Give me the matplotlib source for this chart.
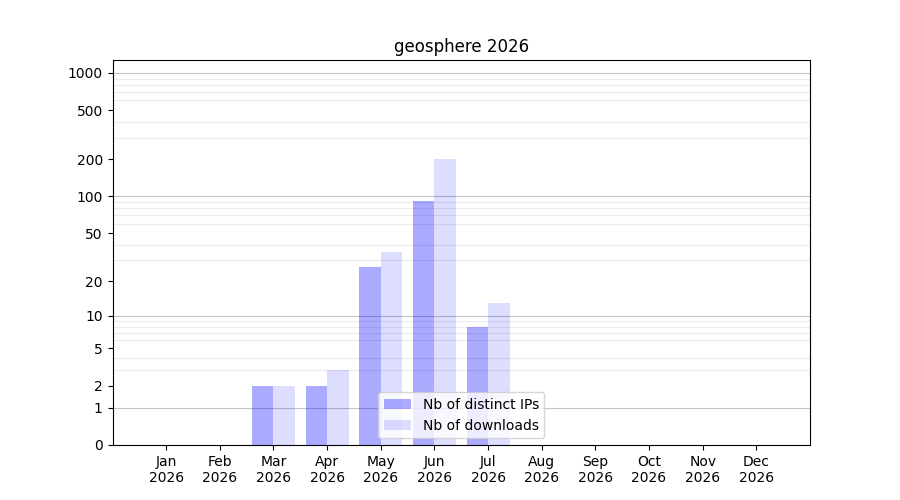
import numpy as np
import matplotlib
matplotlib.use("Agg")
import matplotlib.pyplot as plt
from matplotlib.ticker import FixedLocator, FixedFormatter

months = ["Jan", "Feb", "Mar", "Apr", "May", "Jun", "Jul", "Aug", "Sep", "Oct", "Nov", "Dec"]
year = "2026"
distinct_ips = [0, 0, 2, 2, 26, 92, 8, 0, 0, 0, 0, 0]
downloads = [0, 0, 2, 3, 35, 200, 13, 0, 0, 0, 0, 0]
ytick_values = [0, 1, 2, 5, 10, 20, 50, 100, 200, 500, 1000]

fig, ax = plt.subplots(figsize=(9, 5), dpi=100)
ax.set_axisbelow(True)

x = np.arange(len(months))
w = 0.4
ax.bar(x - w / 2, distinct_ips, width=w, color=(0, 0, 1, 0.333), label="Nb of distinct IPs", zorder=2)
ax.bar(x + w / 2, downloads, width=w, color=(0, 0, 1, 0.133), label="Nb of downloads", zorder=2)

def fwd(v):
    v = np.asarray(v, dtype=float)
    return np.log10(1 + np.clip(v, -0.999999, None))

def inv(v):
    return 10 ** np.asarray(v, dtype=float) - 1

ax.set_yscale("function", functions=(fwd, inv))
ax.set_ylim(0, 1270)
ax.set_xlim(-1, 12)

ax.yaxis.set_major_locator(FixedLocator(ytick_values))
ax.yaxis.set_major_formatter(FixedFormatter([str(v) for v in ytick_values]))

minor = [m * 10 ** e for e in range(0, 4) for m in range(2, 10) if m * 10 ** e < 1270]
ax.yaxis.set_minor_locator(FixedLocator(minor))
ax.tick_params(axis="y", which="minor", length=0)
ax.grid(True, which="minor", axis="y", color="#ebebeb", linewidth=0.8, zorder=0.5)
for v in [1, 10, 100, 1000]:
    ax.axhline(v, color="#c4c4c4", linewidth=0.8, zorder=0.6)

ax.set_xticks(x)
ax.set_xticklabels([f"{m}\n{year}" for m in months])

ax.set_title("geosphere 2026")
ax.legend(loc="lower center")

fig.savefig("out.png")
